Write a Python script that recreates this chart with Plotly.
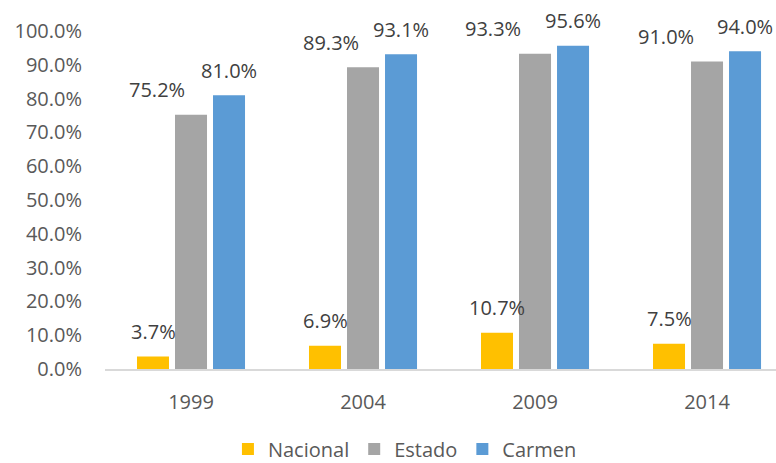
import plotly.graph_objects as go

years = ["1999", "2004", "2009", "2014"]
nacional = [0.037, 0.069, 0.107, 0.075]
estado = [0.752, 0.893, 0.933, 0.910]
carmen = [0.810, 0.931, 0.956, 0.940]
y_ticks = [i / 10 for i in range(11)]
y_tick_text = [f"{v*100:.1f}%" for v in y_ticks]

series = [
    ("Nacional", nacional, "#FFC000"),
    ("Estado", estado, "#A5A5A5"),
    ("Carmen", carmen, "#5B9BD5"),
]
# horizontal pixel shift of each data label relative to the category centre
label_shift = {
    "Nacional": [-38, -38, -38, -38],
    "Estado": [-34, -32, -42, -41],
    "Carmen": [38, 38, 38, 38],
}

FONT = "Open Sans"
fig = go.Figure()
for name, vals, color in series:
    fig.add_trace(go.Bar(
        x=years, y=vals, name=name, marker=dict(color=color, line=dict(width=0)),
        hoverinfo="skip",
    ))
    for i, (v, sh) in enumerate(zip(vals, label_shift[name])):
        fig.add_annotation(
            x=i, y=v, xref="x", yref="y", text=f"{v*100:.1f}%", showarrow=False,
            xshift=sh, yshift=25, xanchor="center", yanchor="middle",
            font=dict(family=FONT, size=20, color="#404040"),
        )

fig.update_layout(
    width=776, height=463,
    margin=dict(l=105, r=0, t=31, b=94, autoexpand=False),
    paper_bgcolor="white", plot_bgcolor="white",
    barmode="group", bargap=0.337, bargroupgap=0.158,
    font=dict(family=FONT, size=20, color="#595959"),
    showlegend=True,
    legend=dict(
        orientation="h", x=0.447, xanchor="center", y=-0.237, yanchor="middle",
        font=dict(family=FONT, size=20, color="#595959"),
        itemwidth=30, tracegroupgap=0,
    ),
)
fig.update_xaxes(
    type="category", range=[-0.5, 3.401], showgrid=False, zeroline=False,
    showline=True, linecolor="#D9D9D9", linewidth=2, automargin=False,
    ticks="", ticklabelstandoff=14,
    tickfont=dict(family=FONT, size=20, color="#595959"),
)
fig.update_yaxes(
    range=[0, 1], showgrid=False, zeroline=False, showline=False, automargin=False,
    tickvals=y_ticks, ticktext=y_tick_text, ticks="", ticklabelstandoff=22,
    tickfont=dict(family=FONT, size=20, color="#595959"),
)

fig.write_html(
    "out.html",
    config={"displayModeBar": False},
    post_script="document.body.style.margin='0';document.body.style.overflow='hidden';",
)
